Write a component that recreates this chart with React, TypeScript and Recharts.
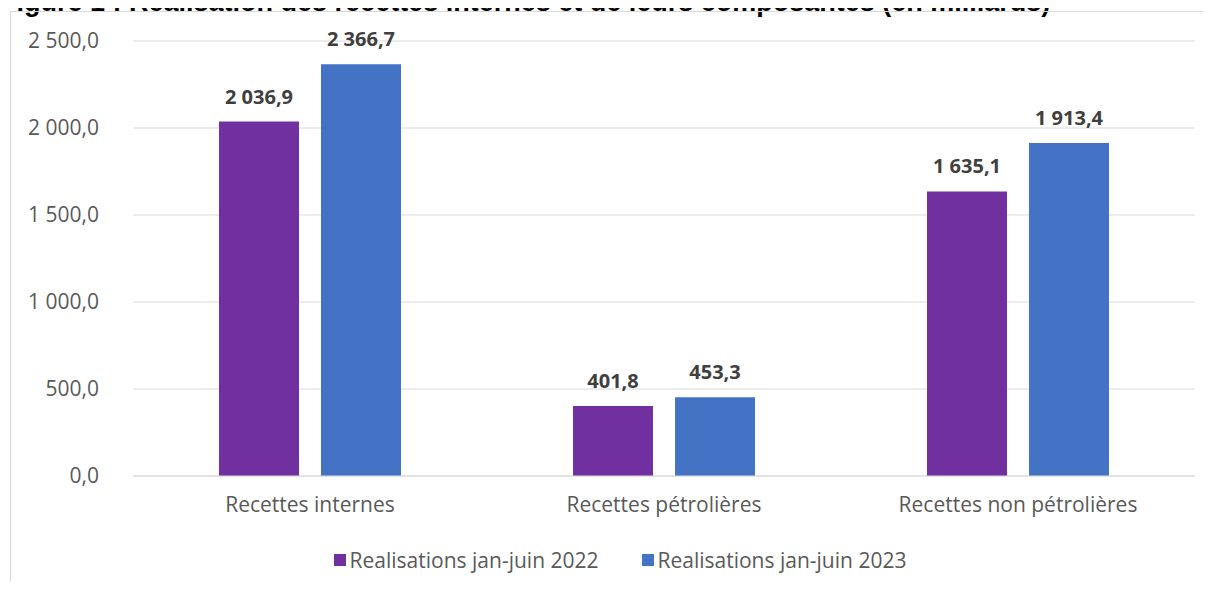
import React from 'react';
import { BarChart, Bar, XAxis, YAxis, CartesianGrid, Legend, LabelList } from 'recharts';

const categories = ['Recettes internes', 'Recettes pétrolières', 'Recettes non pétrolières'];
const realisations2022 = [2036.9, 401.8, 1635.1];
const realisations2023 = [2366.7, 453.3, 1913.4];
const seriesNames = ['Realisations jan-juin 2022', 'Realisations jan-juin 2023'];
const yTicks = [0, 500, 1000, 1500, 2000, 2500];

const data = categories.map((name, i) => ({
  name,
  r2022: realisations2022[i],
  r2023: realisations2023[i],
}));

const FONT = '"Open Sans", "Noto Sans", sans-serif';

// 2 036,9 style (French format, plain space)
const fmt = (v: number) => {
  const [int, dec] = Number(v).toFixed(1).split('.');
  return int.replace(/\B(?=(\d{3})+(?!\d))/g, ' ') + ',' + dec;
};

const LegendContent = ({ payload }: any) => (
  <div style={{ display: 'flex', justifyContent: 'center', gap: 43, paddingLeft: 45, fontFamily: FONT, fontSize: 21, color: '#595959' }}>
    {(payload || []).map((p: any) => (
      <div key={p.value} style={{ display: 'flex', alignItems: 'center' }}>
        <span style={{ width: 12, height: 12, background: p.color, marginRight: 4, display: 'inline-block' }} />
        <span>{p.value}</span>
      </div>
    ))}
  </div>
);

const App = () => {
  return (
    <div style={{ position: 'relative', width: 1211, height: 589, margin: -8, overflow: 'hidden', background: '#fff' }}>
      <div
        style={{
          position: 'absolute',
          left: 0,
          top: -11,
          fontFamily: '"Liberation Sans", Arial, sans-serif',
          fontWeight: 'bold',
          fontSize: 27,
          lineHeight: '27px',
          whiteSpace: 'nowrap',
          color: '#000',
        }}
      >
        Figure 1 : Réalisation des recettes internes et de leurs composantes (en milliards)
      </div>
      <div
        style={{
          position: 'absolute',
          left: 10,
          top: 11,
          width: 1300,
          height: 700,
          borderLeft: '1px solid #d9d9d9',
          borderTop: '1px solid #d9d9d9',
        }}
      />
      <div style={{ position: 'absolute', left: 0, top: 0 }}>
        <BarChart
          width={1211}
          height={589}
          data={data}
          margin={{ top: 41, right: 16, left: 0, bottom: 13 }}
          barCategoryGap={86}
          barGap={22}
        >
          <CartesianGrid vertical={false} stroke="#d9d9d9" />
          <XAxis
            dataKey="name"
            height={70}
            axisLine={{ stroke: '#d9d9d9' }}
            tickLine={false}
            tickSize={0}
            tickMargin={21}
            tick={{ fill: '#595959', fontSize: 21, fontFamily: FONT }}
          />
          <YAxis
            domain={[0, 2500]}
            ticks={yTicks}
            width={133}
            axisLine={false}
            tickLine={false}
            tickSize={0}
            tickMargin={34}
            tickFormatter={fmt}
            tick={{ fill: '#595959', fontSize: 21, fontFamily: FONT }}
          />
          <Legend verticalAlign="bottom" height={30} content={<LegendContent />} />
          <Bar dataKey="r2022" name={seriesNames[0]} fill="#7030A0" isAnimationActive={false}>
            <LabelList dataKey="r2022" position="top" offset={18} formatter={fmt} fill="#404040" fontSize={20} fontWeight="bold" fontFamily={FONT} />
          </Bar>
          <Bar dataKey="r2023" name={seriesNames[1]} fill="#4472C4" isAnimationActive={false}>
            <LabelList dataKey="r2023" position="top" offset={18} formatter={fmt} fill="#404040" fontSize={20} fontWeight="bold" fontFamily={FONT} />
          </Bar>
        </BarChart>
      </div>
    </div>
  );
};

export default App;
